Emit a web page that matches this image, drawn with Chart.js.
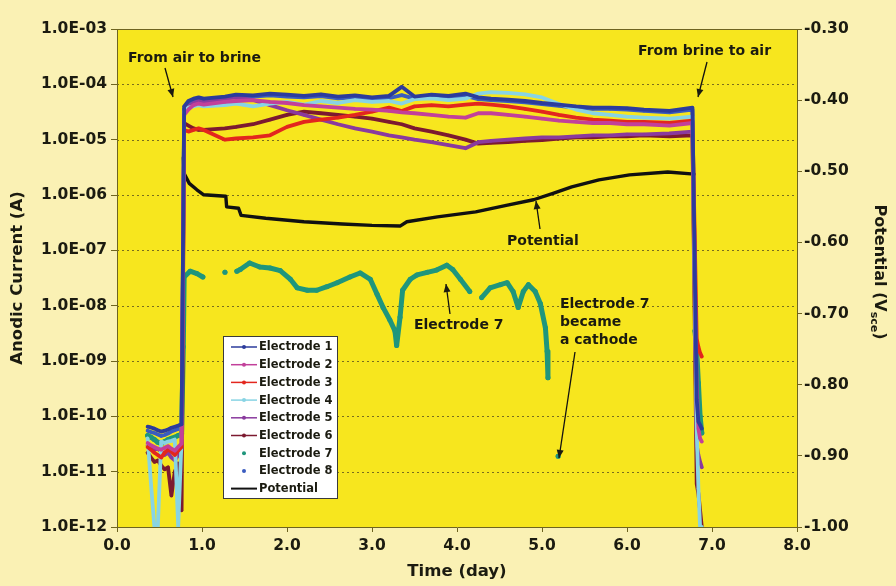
<!DOCTYPE html>
<html><head><meta charset="utf-8">
<script src="https://cdn.jsdelivr.net/npm/chart.js@4.4.0/dist/chart.umd.min.js"></script>
<style>html,body{margin:0;padding:0;background:#FAF2B8;}canvas{display:block;}</style>
</head><body>
<canvas id="c" width="896" height="586"></canvas>
<script>
// ---------- DATA ----------
const xTickLabels = ['0.0','1.0','2.0','3.0','4.0','5.0','6.0','7.0','8.0'];
const leftTickValues = [1e-12,1e-11,1e-10,1e-9,1e-8,1e-7,1e-6,1e-5,1e-4,1e-3];
const leftTickLabels = ['1.0E-12','1.0E-11','1.0E-10','1.0E-09','1.0E-08','1.0E-07','1.0E-06','1.0E-05','1.0E-04','1.0E-03'];
const rightTickLabels = ['-1.00','-0.90','-0.80','-0.70','-0.60','-0.50','-0.40','-0.30'];
const seriesNames = ['Electrode 1','Electrode 2','Electrode 3','Electrode 4','Electrode 5','Electrode 6','Electrode 7','Electrode 8','Potential'];

const airDays   = [0.36,0.40,0.44,0.48,0.52,0.56,0.60,0.64,0.68,0.72,0.76];
const brineDays = [0.79,0.84,0.90,0.96,1.02,1.27,1.40,1.60,1.80,2.00,2.20,2.40,2.60,2.80,3.00,3.20,3.35,3.50,3.70,3.90,4.10,4.25,4.40,4.60,4.80,5.00,5.20,5.40,5.60,5.80,6.00,6.20,6.50,6.77];
const endDays   = [6.82,6.84,6.86,6.88];

const e1Air = [6.5e-11,6.3e-11,6.0e-11,5.6e-11,5.3e-11,5.5e-11,5.8e-11,6.2e-11,6.5e-11,6.8e-11,7.2e-11];
const e1Brine = [4.0e-5,5.0e-5,5.5e-5,5.8e-5,5.5e-5,6.0e-5,6.5e-5,6.3e-5,6.8e-5,6.5e-5,6.2e-5,6.6e-5,6.0e-5,6.3e-5,5.8e-5,6.2e-5,9.0e-5,6.0e-5,6.5e-5,6.2e-5,6.8e-5,5.8e-5,5.5e-5,5.3e-5,5.0e-5,4.6e-5,4.3e-5,4.0e-5,3.8e-5,3.8e-5,3.7e-5,3.5e-5,3.3e-5,3.8e-5];
const e1End = [2e-10,8e-11,7e-11,6e-11];

const e2Air = [3.3e-11,3.0e-11,2.8e-11,2.6e-11,2.5e-11,2.7e-11,2.9e-11,2.6e-11,2.4e-11,2.8e-11,3.2e-11];
const e2Brine = [2.8e-5,3.5e-5,4.2e-5,4.5e-5,4.3e-5,4.8e-5,5.0e-5,5.2e-5,4.8e-5,4.6e-5,4.2e-5,4.0e-5,3.8e-5,3.6e-5,3.5e-5,3.3e-5,3.1e-5,3.0e-5,2.8e-5,2.6e-5,2.5e-5,3.0e-5,3.0e-5,2.8e-5,2.6e-5,2.4e-5,2.2e-5,2.1e-5,2.0e-5,2.0e-5,1.9e-5,1.9e-5,1.8e-5,2.0e-5];
const e2End = [4e-10,6e-11,4e-11,3.5e-11];

const e3Air = [2.8e-11,2.5e-11,2.2e-11,2.0e-11,1.8e-11,2.2e-11,2.5e-11,2.3e-11,2.0e-11,2.4e-11,2.8e-11];
const e3Brine = [1.5e-5,1.4e-5,1.5e-5,1.6e-5,1.5e-5,1.0e-5,1.05e-5,1.1e-5,1.2e-5,1.7e-5,2.1e-5,2.3e-5,2.5e-5,2.8e-5,3.2e-5,3.8e-5,3.3e-5,4.0e-5,4.2e-5,4.0e-5,4.3e-5,4.5e-5,4.3e-5,4.0e-5,3.6e-5,3.2e-5,2.8e-5,2.5e-5,2.3e-5,2.2e-5,2.1e-5,2.1e-5,2.0e-5,2.2e-5];
const e3End = [2.5e-9,1.8e-9,1.4e-9,1.2e-9];

const e4Air = [4.0e-11,6.0e-12,1.0e-12,1.0e-12,3.5e-11,3.3e-11,3.5e-11,3.6e-11,3.8e-11,1.0e-12,4.0e-11];
const e4Brine = [3.2e-5,3.8e-5,4.0e-5,4.2e-5,4.0e-5,4.2e-5,4.5e-5,4.0e-5,4.5e-5,4.8e-5,4.3e-5,5.0e-5,4.6e-5,5.2e-5,4.8e-5,5.0e-5,4.5e-5,5.4e-5,5.6e-5,5.2e-5,5.5e-5,6.8e-5,7.2e-5,7.0e-5,6.6e-5,5.8e-5,4.4e-5,3.5e-5,3.0e-5,2.8e-5,2.6e-5,2.5e-5,2.4e-5,2.6e-5];
const e4End = [6e-11,5e-12,1e-12,1e-12];

const e5Air = [3.0e-11,2.8e-11,2.5e-11,2.6e-11,2.3e-11,2.0e-11,2.2e-11,1.8e-11,1.6e-11,2.0e-11,2.5e-11];
const e5Brine = [3.0e-5,4.0e-5,4.6e-5,5.0e-5,4.8e-5,5.5e-5,5.8e-5,5.2e-5,4.2e-5,3.4e-5,2.8e-5,2.3e-5,1.9e-5,1.6e-5,1.4e-5,1.2e-5,1.1e-5,1.0e-5,9.0e-6,8.0e-6,7.0e-6,9.0e-6,9.5e-6,1.0e-5,1.05e-5,1.1e-5,1.1e-5,1.15e-5,1.2e-5,1.2e-5,1.25e-5,1.25e-5,1.3e-5,1.4e-5];
const e5End = [3e-11,2e-11,1.5e-11,1.2e-11];

const e6Air = [2.2e-11,1.8e-11,1.5e-11,1.6e-11,1.3e-11,1.1e-11,1.2e-11,3.7e-12,1.0e-11,1.4e-11,2.0e-12];
const e6Brine = [2.0e-5,1.8e-5,1.6e-5,1.5e-5,1.5e-5,1.6e-5,1.7e-5,1.9e-5,2.3e-5,2.8e-5,3.2e-5,3.0e-5,2.8e-5,2.6e-5,2.4e-5,2.1e-5,1.9e-5,1.6e-5,1.4e-5,1.2e-5,1.0e-5,8.5e-6,8.8e-6,9.0e-6,9.5e-6,9.8e-6,1.05e-5,1.1e-5,1.1e-5,1.15e-5,1.15e-5,1.2e-5,1.15e-5,1.2e-5];
const e6End = [6e-12,4e-12,2e-12,1e-12];

const e7Air = [4.5e-11,4.2e-11,3.8e-11,3.4e-11,3.2e-11,3.5e-11,3.8e-11,4.0e-11,4.2e-11,4.5e-11,4.8e-11];
const e7Days = [0.78,0.79,0.86,0.94,1.01,1.14,1.27,1.34,1.41,1.45,1.56,1.68,1.80,1.92,2.04,2.12,2.24,2.35,2.47,2.59,2.74,2.86,2.98,3.06,3.13,3.21,3.27,3.29,3.33,3.36,3.45,3.53,3.65,3.76,3.88,3.95,4.04,4.15,4.22,4.29,4.39,4.51,4.59,4.66,4.72,4.78,4.84,4.92,4.98,5.04,5.06,5.07,5.12,5.19,6.00];
const e7Vals = [1.8e-9,3.3e-8,4.2e-8,3.8e-8,3.3e-8,null,4.0e-8,null,4.2e-8,4.5e-8,5.9e-8,5.0e-8,4.8e-8,4.3e-8,3.0e-8,2.1e-8,1.9e-8,1.9e-8,2.2e-8,2.6e-8,3.3e-8,3.9e-8,3.0e-8,1.6e-8,9.3e-9,5.5e-9,3.5e-9,1.9e-9,6.2e-9,1.9e-8,3.0e-8,3.6e-8,4.0e-8,4.4e-8,5.4e-8,4.5e-8,3.0e-8,1.8e-8,null,1.4e-8,2.1e-8,2.4e-8,2.6e-8,1.8e-8,9.3e-9,1.8e-8,2.4e-8,1.8e-8,1.1e-8,4.0e-9,1.5e-9,5.0e-10,null,1.9e-11,null];
const e7EndDays = [6.80,6.82,6.84,6.86,6.88];
const e7End = [3.5e-9,1.5e-9,4e-10,1e-10,5e-11];

const e8Air = [5.5e-11,5.2e-11,5.0e-11,4.7e-11,4.4e-11,4.6e-11,4.9e-11,5.3e-11,5.6e-11,5.9e-11,6.2e-11];
const e8Brine = [3.6e-5,4.6e-5,5.2e-5,5.4e-5,5.2e-5,5.6e-5,6.0e-5,6.0e-5,6.3e-5,6.0e-5,5.8e-5,6.1e-5,5.6e-5,5.8e-5,5.4e-5,5.6e-5,6.4e-5,5.5e-5,6.0e-5,5.8e-5,6.2e-5,5.4e-5,5.2e-5,5.0e-5,4.7e-5,4.4e-5,4.1e-5,3.8e-5,3.6e-5,3.6e-5,3.5e-5,3.3e-5,3.1e-5,3.5e-5];
const e8End = [1.5e-10,7e-11,6e-11,5e-11];

const potDays = [0.78,0.79,0.85,0.94,1.02,1.28,1.29,1.43,1.46,1.75,2.20,2.65,3.00,3.33,3.41,3.77,4.22,4.58,4.90,5.13,5.35,5.67,6.03,6.48,6.79];
const potVals = [-0.481,-0.503,-0.517,-0.526,-0.533,-0.535,-0.550,-0.552,-0.562,-0.566,-0.571,-0.574,-0.576,-0.577,-0.571,-0.564,-0.557,-0.548,-0.540,-0.531,-0.522,-0.512,-0.505,-0.501,-0.504];

// ---------- STYLE ----------
const FONT = '"DejaVu Sans", "Liberation Sans", sans-serif';
const TXT = '#1b1b10';
const AXIS = '#6e6420';
const GRID = '#7a6e1c';
const OUTER_BG = '#FAF1B4';
const PLOT_BG = '#F7E61E';
const colors = ['#2C3C9C','#C2409A','#E3261E','#88D4E4','#8A3A9E','#7C1A30','#1F967C','#3A5CC0','#111111'];

function pts(days, vals){ return days.map((d,i)=>({x:d, y:vals[i]})); }
function elec(air, brine, end){ return pts(airDays, air).concat(pts(brineDays, brine), pts(endDays, end)); }

const elecData = [
  elec(e1Air,e1Brine,e1End), elec(e2Air,e2Brine,e2End), elec(e3Air,e3Brine,e3End),
  elec(e4Air,e4Brine,e4End), elec(e5Air,e5Brine,e5End), elec(e6Air,e6Brine,e6End),
  pts(airDays,e7Air).concat(pts(e7Days,e7Vals), pts(e7EndDays,e7End)),
  elec(e8Air,e8Brine,e8End)
];

const datasets = elecData.map((d,i)=>({
  label: seriesNames[i], data: d, yAxisID:'y',
  borderColor: colors[i], backgroundColor: colors[i],
  borderWidth: i===6 ? 5 : 3.8, pointRadius: i===6 ? 2.5 : 1.5, pointHoverRadius:0,
  pointBorderWidth:0, tension:0, spanGaps:false
}));
datasets.push({label: seriesNames[8], data: pts(potDays,potVals), yAxisID:'y2',
  borderColor: colors[8], backgroundColor: colors[8], borderWidth:3.4, pointRadius:0, tension:0});

// ---------- PLUGIN ----------
function arrow(ctx,x1,y1,x2,y2){
  ctx.beginPath(); ctx.moveTo(x1,y1); ctx.lineTo(x2,y2); ctx.stroke();
  const a=Math.atan2(y2-y1,x2-x1), L=8, W=3.5;
  ctx.beginPath(); ctx.moveTo(x2,y2);
  ctx.lineTo(x2-L*Math.cos(a)+W*Math.sin(a), y2-L*Math.sin(a)-W*Math.cos(a));
  ctx.lineTo(x2-L*Math.cos(a)-W*Math.sin(a), y2-L*Math.sin(a)+W*Math.cos(a));
  ctx.closePath(); ctx.fill();
}
const deco = {
  id:'deco',
  beforeDraw(chart){
    const {ctx, chartArea:a} = chart;
    ctx.save();
    ctx.fillStyle = OUTER_BG; ctx.fillRect(0,0,chart.width,chart.height);
    ctx.fillStyle = PLOT_BG; ctx.fillRect(a.left,a.top,a.right-a.left,a.bottom-a.top);
    ctx.restore();
  },
  beforeDatasetsDraw(chart){
    const {ctx, chartArea:a, scales} = chart;
    ctx.save();
    ctx.strokeStyle = GRID; ctx.lineWidth = 1; ctx.setLineDash([2,3]);
    leftTickValues.forEach(v=>{
      const y = Math.round(scales.y.getPixelForValue(v))+0.5;
      if (y < a.top+2 || y > a.bottom-2) return;
      ctx.beginPath(); ctx.moveTo(a.left,y); ctx.lineTo(a.right,y); ctx.stroke();
    });
    ctx.setLineDash([]);
    ctx.strokeStyle = AXIS;
    ctx.beginPath(); ctx.moveTo(a.left, a.top+0.5); ctx.lineTo(a.right, a.top+0.5); ctx.stroke();
    ctx.restore();
  },
  afterDraw(chart){
    const {ctx} = chart;
    ctx.save();
    // legend
    const lx=223, ly=336, lw=114, lh=162;
    ctx.fillStyle='#ffffff'; ctx.fillRect(lx,ly,lw,lh);
    ctx.strokeStyle='#3a3a3a'; ctx.lineWidth=1; ctx.strokeRect(lx+0.5,ly+0.5,lw,lh);
    ctx.font = 'bold 11.5px '+FONT; ctx.textBaseline='middle'; ctx.textAlign='left';
    seriesNames.forEach((name,i)=>{
      const y = ly + 11 + i*17.7;
      ctx.strokeStyle = colors[i]; ctx.fillStyle = colors[i];
      if (i!==6 && i!==7){
        ctx.lineWidth = i===8 ? 2 : 1.5;
        ctx.beginPath(); ctx.moveTo(231,y); ctx.lineTo(257,y); ctx.stroke();
      }
      if (i<8){ ctx.beginPath(); ctx.arc(244,y,2,0,Math.PI*2); ctx.fill(); }
      ctx.fillStyle = TXT; ctx.fillText(name, 259, y+0.5);
    });
    // annotations
    ctx.fillStyle = TXT; ctx.strokeStyle = '#111'; ctx.lineWidth = 1.3;
    ctx.font = 'bold 14px '+FONT; ctx.textBaseline='middle';
    ctx.fillText('From air to brine', 128, 58);
    arrow(ctx,165,68,173,97);
    ctx.fillText('From brine to air', 638, 51);
    arrow(ctx,707,62,698,97);
    ctx.fillText('Potential', 507, 241);
    arrow(ctx,540,229,536,201);
    ctx.fillText('Electrode 7', 414, 325);
    arrow(ctx,450,314,446,284);
    ctx.fillText('Electrode 7', 560, 304);
    ctx.fillText('became', 560, 322);
    ctx.fillText('a cathode', 560, 340);
    arrow(ctx,575,352,559,458);
    // right axis title with subscript
    ctx.translate(881, 272); ctx.rotate(Math.PI/2);
    const f1='bold 16px '+FONT, f2='bold 11px '+FONT;
    ctx.font=f1; const w1=ctx.measureText('Potential (V').width, w3=ctx.measureText(')').width;
    ctx.font=f2; const w2=ctx.measureText('sce').width;
    let x0 = -(w1+w2+w3)/2;
    ctx.textAlign='left'; ctx.textBaseline='alphabetic';
    ctx.font=f1; ctx.fillText('Potential (V', x0, 6);
    ctx.font=f2; ctx.fillText('sce', x0+w1, 10);
    ctx.font=f1; ctx.fillText(')', x0+w1+w2, 6);
    ctx.restore();
  }
};

const tickFont = {family: FONT, size: 15.5, weight:'bold'};
const titleFont = {family: FONT, size: 16.5, weight:'bold'};

new Chart(document.getElementById('c'), {
  type:'line',
  data:{datasets},
  options:{
    responsive:false, animation:false, devicePixelRatio:1,
    layout:{padding:{top:29,left:0,right:0,bottom:0}},
    plugins:{legend:{display:false}, tooltip:{enabled:false}},
    elements:{line:{borderJoinStyle:'round', borderCapStyle:'round'}},
    scales:{
      x:{type:'linear', position:'bottom', min:0, max:8,
        ticks:{stepSize:1, autoSkip:false, maxRotation:0, color:TXT, font:tickFont, padding:5,
          callback:(v)=>xTickLabels[Math.round(v)]},
        grid:{drawOnChartArea:false, drawTicks:true, tickLength:5, color:AXIS},
        border:{color:AXIS, width:1},
        title:{display:true, text:'Time (day)', color:TXT, font:titleFont, padding:{top:0,bottom:4}},
        afterFit(s){ s.height = 59; }
      },
      y:{type:'logarithmic', position:'left', min:1e-12, max:1e-3,
        afterBuildTicks(s){ s.ticks = leftTickValues.map(v=>({value:v})); },
        ticks:{autoSkip:false, color:TXT, font:tickFont, padding:4,
          callback:(v)=>{ const i = leftTickValues.findIndex(t=>Math.abs(Math.log10(t)-Math.log10(v))<1e-6); return i>=0 ? leftTickLabels[i] : ''; }},
        grid:{drawOnChartArea:false, drawTicks:true, tickLength:6, color:AXIS},
        border:{color:AXIS, width:1},
        title:{display:true, text:'Anodic Current (A)', color:TXT, font:titleFont, padding:{top:8,bottom:0}},
        afterFit(s){ s.width = 117; }
      },
      y2:{type:'linear', position:'right', min:-1.0, max:-0.3,
        ticks:{stepSize:0.1, autoSkip:false, color:TXT, font:tickFont, padding:2,
          callback:(v)=>rightTickLabels[Math.round((v+1)*10)]},
        grid:{drawOnChartArea:false, drawTicks:true, tickLength:5, color:AXIS},
        border:{color:AXIS, width:1},
        afterFit(s){ s.width = 99; }
      }
    }
  },
  plugins:[deco]
});
</script>
</body></html>
